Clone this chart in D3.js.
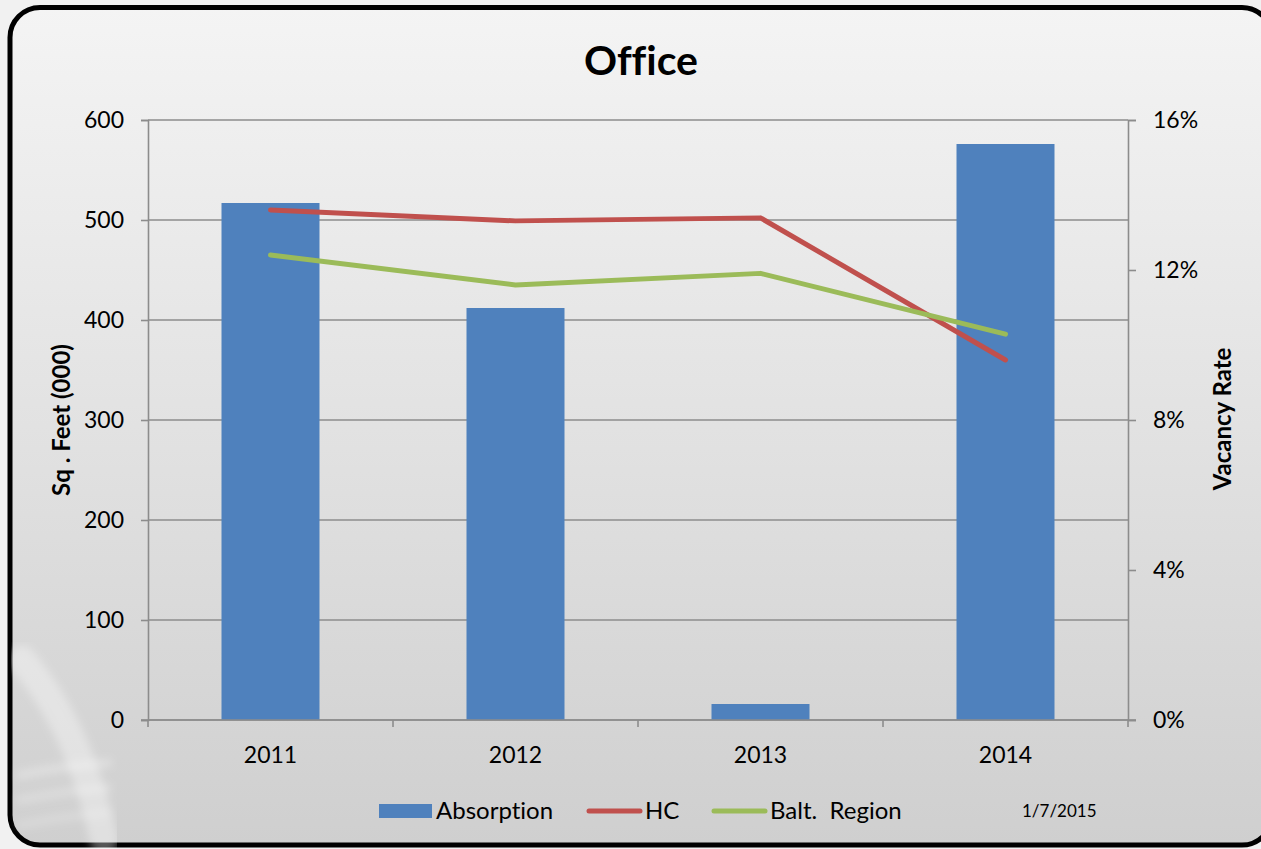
<!DOCTYPE html>
<html>
<head>
<meta charset="utf-8">
<script src="https://cdn.jsdelivr.net/npm/d3@7"></script>
<style>
  body { margin: 0; background: #f1f1f1; overflow: hidden; }
  svg text { font-family: Lato, "Open Sans", sans-serif; fill: #000; font-variant-ligatures: none; }
</style>
</head>
<body>
<div id="chart"></div>
<script>
// data
const years = ["2011", "2012", "2013", "2014"];
const absorption = [517, 412, 16, 576];          // sq. feet (000)
const hcVacancy = [0.136, 0.1331, 0.1339, 0.096];
const baltVacancy = [0.124, 0.116, 0.1191, 0.1029];
const leftTicks = [0, 100, 200, 300, 400, 500, 600];
const rightTicks = [0, 0.04, 0.08, 0.12, 0.16];
const seriesNames = ["Absorption", "HC", "Balt.  Region"];
const seriesColors = ["#4F81BD", "#C0504D", "#9BBB59"];
const chartTitle = "Office";
const leftTitle = "Sq . Feet (000)";
const rightTitle = "Vacancy Rate";
const dateNote = "1/7/2015";

const width = 1261, height = 849;
const plot = {left: 148, right: 1128, top: 120, bottom: 720};

let svg = d3.select("#chart").append("svg")
    .attr("width", width)
    .attr("height", height);

let defs = svg.append("defs");
let grad = defs.append("linearGradient")
    .attr("id", "bg")
    .attr("x1", 0).attr("y1", 0).attr("x2", 0).attr("y2", 1);
grad.append("stop").attr("offset", "0%").attr("stop-color", "#f4f4f4");
grad.append("stop").attr("offset", "50%").attr("stop-color", "#e2e2e2");
grad.append("stop").attr("offset", "100%").attr("stop-color", "#cfcfcf");

defs.append("filter").attr("id", "soft")
    .append("feGaussianBlur").attr("stdDeviation", 4);

// card (right edge runs off the picture)
svg.append("rect")
    .attr("x", 10).attr("y", 7.5)
    .attr("width", 1262).attr("height", 837.5)
    .attr("rx", 30).attr("ry", 30)
    .attr("fill", "url(#bg)")
    .attr("stroke", "#000")
    .attr("stroke-width", 5);

// faint swirl in the lower left corner
let swirl = svg.append("g")
    .attr("fill", "none")
    .attr("stroke", "#fff")
    .attr("stroke-linecap", "round")
    .attr("filter", "url(#soft)");
swirl.append("path")
    .attr("d", "M22,660 C60,705 88,765 104,840")
    .attr("stroke-width", 28).attr("opacity", 0.35);
[775, 800, 825].forEach((y, i) => {
    swirl.append("path")
        .attr("d", `M20,${y} C50,${y - 6} 80,${y - 10} 108,${y - 12}`)
        .attr("stroke-width", 8).attr("opacity", 0.3 - i * 0.05);
});

// scales
let x = d3.scaleBand()
    .domain(years)
    .range([plot.left, plot.right])
    .paddingInner(0.6)
    .paddingOuter(0.3);

let yLeft = d3.scaleLinear().domain([0, 600]).range([plot.bottom, plot.top]);
let yRight = d3.scaleLinear().domain([0, 0.16]).range([plot.bottom, plot.top]);

const gridColor = "#8c8c8c";

// horizontal gridlines
svg.append("g").selectAll("line")
    .data(leftTicks)
    .join("line")
    .attr("x1", plot.left).attr("x2", plot.right)
    .attr("y1", d => yLeft(d)).attr("y2", d => yLeft(d))
    .attr("stroke", gridColor)
    .attr("stroke-width", 1.6);

// left axis
let leftAxis = svg.append("g")
    .attr("transform", `translate(${plot.left},0)`)
    .call(d3.axisLeft(yLeft).tickValues(leftTicks).tickSize(7).tickPadding(17));
leftAxis.selectAll("path, line").attr("stroke", gridColor).attr("stroke-width", 1.6);
leftAxis.selectAll("text").style("font-size", "23px").attr("fill", "#000");

// right axis
let rightAxis = svg.append("g")
    .attr("transform", `translate(${plot.right},0)`)
    .call(d3.axisRight(yRight).tickValues(rightTicks).tickSize(8).tickPadding(17).tickFormat(d3.format(".0%")));
rightAxis.selectAll("path, line").attr("stroke", gridColor).attr("stroke-width", 1.6);
rightAxis.selectAll("text").style("font-size", "23px").attr("fill", "#000");

// bottom axis: labels at category centres, ticks on the boundaries
let bottomAxis = svg.append("g")
    .attr("transform", `translate(0,${plot.bottom})`)
    .call(d3.axisBottom(x).tickSize(0).tickPadding(27));
bottomAxis.select(".domain").remove();
bottomAxis.selectAll("text").style("font-size", "23px").attr("fill", "#000");

let boundaries = d3.range(years.length + 1).map(i => plot.left + i * x.step());
svg.append("g").selectAll("line")
    .data(boundaries)
    .join("line")
    .attr("x1", d => d).attr("x2", d => d)
    .attr("y1", plot.bottom).attr("y2", plot.bottom + 7)
    .attr("stroke", gridColor)
    .attr("stroke-width", 1.6);

// bars
svg.append("g").selectAll("rect")
    .data(absorption)
    .join("rect")
    .attr("x", (d, i) => x(years[i]))
    .attr("y", d => yLeft(d))
    .attr("width", x.bandwidth())
    .attr("height", d => yLeft(0) - yLeft(d))
    .attr("fill", seriesColors[0]);

// re-draw the baseline over the bars
svg.append("line")
    .attr("x1", plot.left - 7).attr("x2", plot.right + 8)
    .attr("y1", yLeft(0)).attr("y2", yLeft(0))
    .attr("stroke", gridColor)
    .attr("stroke-width", 1.6);

// vacancy lines
let line = d3.line()
    .x((d, i) => x(years[i]) + x.bandwidth() / 2)
    .y(d => yRight(d));

[hcVacancy, baltVacancy].forEach((series, k) => {
    svg.append("path")
        .datum(series)
        .attr("d", line)
        .attr("fill", "none")
        .attr("stroke", seriesColors[k + 1])
        .attr("stroke-width", 5)
        .attr("stroke-linecap", "round")
        .attr("stroke-linejoin", "round");
});

// titles
svg.append("text")
    .attr("x", 641).attr("y", 75)
    .attr("text-anchor", "middle")
    .style("font-size", "41px")
    .style("font-weight", "bold")
    .text(chartTitle);

svg.append("text")
    .attr("transform", "translate(70,420) rotate(-90)")
    .attr("text-anchor", "middle")
    .style("font-size", "24px")
    .style("font-weight", "bold")
    .text(leftTitle);

svg.append("text")
    .attr("transform", "translate(1231,419) rotate(-90)")
    .attr("text-anchor", "middle")
    .style("font-size", "24px")
    .style("font-weight", "bold")
    .text(rightTitle);

// legend
let legendX = [379, 587, 712];
let legend = svg.append("g");
legend.append("rect")
    .attr("x", legendX[0]).attr("y", 804)
    .attr("width", 53).attr("height", 14)
    .attr("fill", seriesColors[0]);
[1, 2].forEach(k => {
    legend.append("line")
        .attr("x1", legendX[k] + 2).attr("x2", legendX[k] + 53)
        .attr("y1", 811).attr("y2", 811)
        .attr("stroke", seriesColors[k])
        .attr("stroke-width", 5)
        .attr("stroke-linecap", "round");
});
legend.selectAll("text")
    .data(seriesNames)
    .join("text")
    .attr("x", (d, i) => legendX[i] + (i === 0 ? 57 : 58))
    .attr("y", 819)
    .style("font-size", "24px")
    .style("white-space", "pre")
    .text(d => d);

svg.append("text")
    .attr("x", 1022).attr("y", 817)
    .style("font-size", "17px")
    .text(dateNote);
</script>
</body>
</html>
